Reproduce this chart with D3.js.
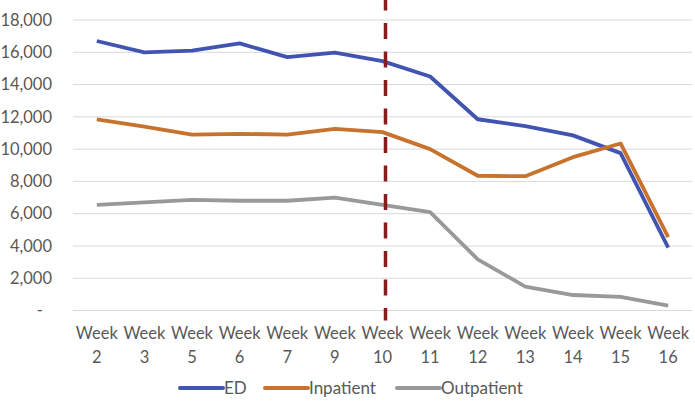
<!DOCTYPE html>
<html><head><meta charset="utf-8">
<script src="https://cdn.jsdelivr.net/npm/d3@7"></script>
<style>
html,body{margin:0;padding:0;background:#fff;}
svg{display:block;font-family:Lato,"Open Sans",sans-serif;}
</style></head>
<body>
<svg id="chart" width="695" height="408"></svg>
<script>
const weeks = ["2","3","5","6","7","9","10","11","12","13","14","15","16"];
const yTicks = [0,2000,4000,6000,8000,10000,12000,14000,16000,18000];
const edValues = [16700,16000,16100,16550,15700,15980,15450,14500,11850,11430,10850,9750,3900];
const inpatientValues = [11850,11400,10900,10950,10900,11250,11050,10000,8350,8320,9500,10350,4550];
const outpatientValues = [6550,6700,6850,6800,6800,7000,6550,6100,3170,1480,960,850,300];
const seriesNames = ["ED","Inpatient","Outpatient"];
const seriesColors = ["#4254B1","#C8732D","#999999"];
const markerWeek = "10";

const series = [edValues, inpatientValues, outpatientValues].map((v,i)=>({name:seriesNames[i], color:seriesColors[i], values:v}));

const svg = d3.select("#chart");
const x = d3.scalePoint().domain(weeks).range([73,692]).padding(0.5);
const y = d3.scaleLinear().domain([0,18000]).range([310.5,20]);

// gridlines
svg.append("g").selectAll("line").data(yTicks).join("line")
  .attr("x1",73).attr("x2",692)
  .attr("y1",d=>y(d)).attr("y2",d=>y(d))
  .attr("stroke","#d9d9d9").attr("stroke-width",1);

// y axis labels
const fmt = d3.format(",");
svg.append("g").selectAll("text").data(yTicks).join("text")
  .attr("x",d=> d===0 ? 43 : 52)
  .attr("y",d=>y(d))
  .attr("dy","0.35em")
  .attr("text-anchor","end")
  .attr("fill","#595959")
  .attr("font-size",16.5)
  .text(d=> d===0 ? "-" : fmt(d));

// x axis labels
const xl = svg.append("g").selectAll("text").data(weeks).join("text")
  .attr("text-anchor","middle")
  .attr("fill","#595959")
  .attr("font-size",16.5);
xl.append("tspan").attr("x",d=>x(d)).attr("y",339).text("Week");
xl.append("tspan").attr("x",d=>x(d)).attr("y",363).text(d=>d);

// lines
const line = d3.line().x((d,i)=>x(weeks[i])).y(d=>y(d));
svg.append("g").selectAll("path").data(series).join("path")
  .attr("d",d=>line(d.values))
  .attr("fill","none")
  .attr("stroke",d=>d.color)
  .attr("stroke-width",3.8)
  .attr("stroke-linejoin","round");

// dashed marker (drawn on top)
svg.append("line")
  .attr("x1",x(markerWeek)+3).attr("x2",x(markerWeek)+3)
  .attr("y1",y(18000)-25.5).attr("y2",y(0)+10)
  .attr("stroke","#8B1A1E").attr("stroke-width",3.5)
  .attr("stroke-dasharray","16,12.5");

// legend
const legendX = [180,265,397];
const lg = svg.append("g").selectAll("g").data(series).join("g")
  .attr("transform",(d,i)=>`translate(${legendX[i]},388)`);
lg.append("line").attr("x1",0).attr("x2",43).attr("y1",0).attr("y2",0)
  .attr("stroke",d=>d.color).attr("stroke-width",4).attr("stroke-linecap","round");
lg.append("text").attr("x",44).attr("y",0).attr("dy","0.35em")
  .attr("fill","#595959").attr("font-size",17).text(d=>d.name);
</script>
</body></html>
